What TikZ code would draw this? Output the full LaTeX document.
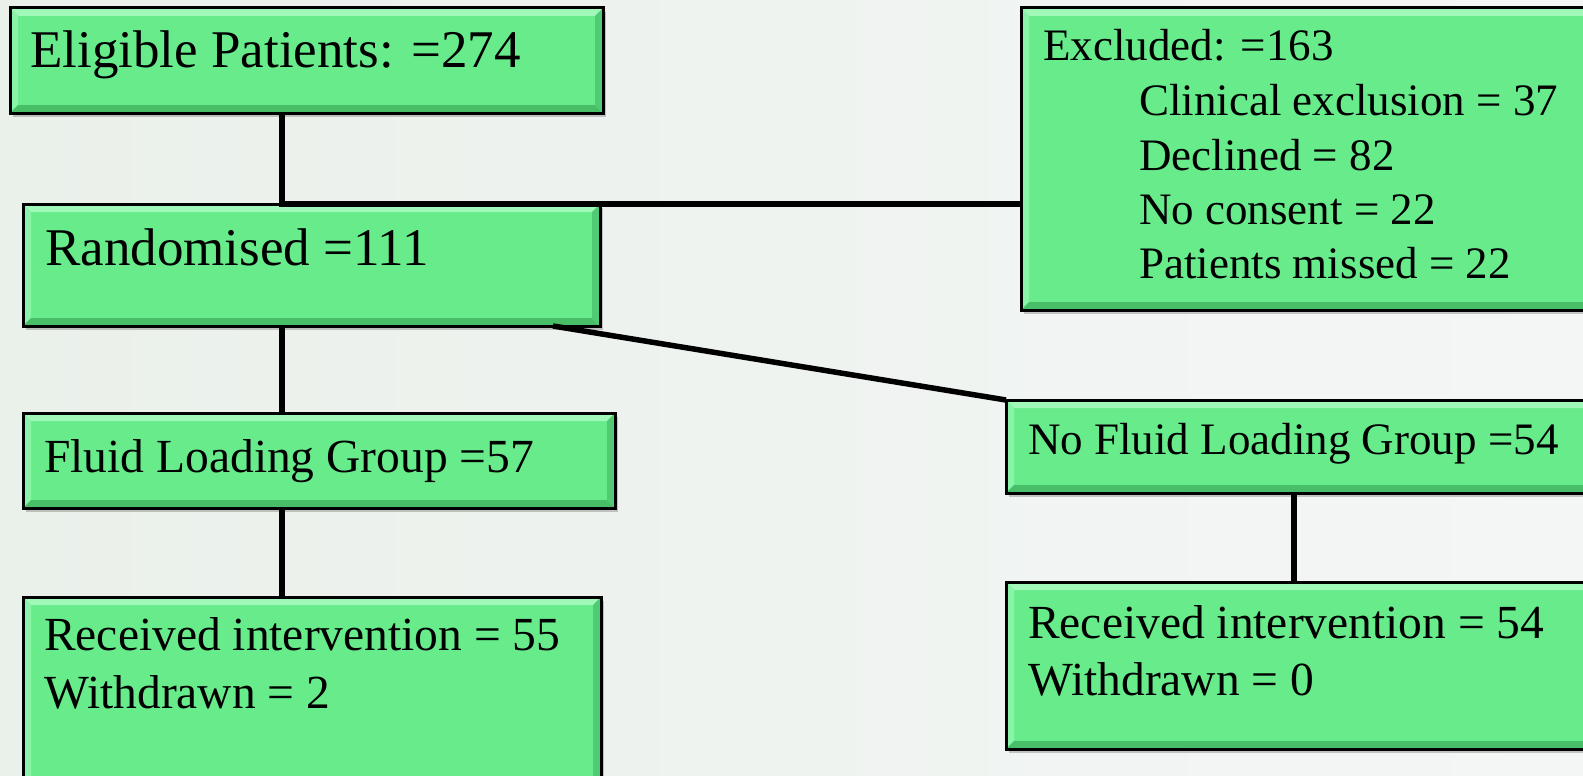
\documentclass[tikz,border=0pt]{standalone}
\usepackage{fontspec}
\setmainfont{Liberation Serif}
\usetikzlibrary{shadows}
\definecolor{boxgreen}{RGB}{103,235,139}
\definecolor{bevlight}{RGB}{160,248,185}
\definecolor{bevdark}{RGB}{72,190,105}
\definecolor{bgcol}{RGB}{244,246,246}
\definecolor{bgleft}{RGB}{234,240,234}
\tikzset{
  flowbox/.style={draw=black, line width=3pt, fill=boxgreen, inner sep=0pt, outer sep=0pt,
    anchor=north west, rectangle,
    drop shadow={shadow xshift=3pt, shadow yshift=-4pt, opacity=0.35, fill=black!60},
    path picture={
      \fill[bevlight] (path picture bounding box.north west) -- (path picture bounding box.north east)
        -- ([shift={(-8pt,-8pt)}]path picture bounding box.north east) -- ([shift={(8pt,-8pt)}]path picture bounding box.north west) -- cycle;
      \fill[bevlight!60!boxgreen] (path picture bounding box.north west) -- ([shift={(8pt,-8pt)}]path picture bounding box.north west)
        -- ([shift={(8pt,8pt)}]path picture bounding box.south west) -- (path picture bounding box.south west) -- cycle;
      \fill[bevdark] (path picture bounding box.south west) -- (path picture bounding box.south east)
        -- ([shift={(-8pt,8pt)}]path picture bounding box.south east) -- ([shift={(8pt,8pt)}]path picture bounding box.south west) -- cycle;
      \fill[bevdark!70!boxgreen] (path picture bounding box.north east) -- ([shift={(-8pt,-8pt)}]path picture bounding box.north east)
        -- ([shift={(-8pt,8pt)}]path picture bounding box.south east) -- (path picture bounding box.south east) -- cycle;
    }},
  conn/.style={draw=black, line width=5.5pt},
  big/.style={anchor=base west, inner sep=0pt, font=\fontsize{53pt}{60pt}\selectfont},
  mid/.style={anchor=base west, inner sep=0pt, font=\fontsize{47.5pt}{57pt}\selectfont},
  small/.style={anchor=base west, inner sep=0pt, font=\fontsize{45pt}{54pt}\selectfont},
}
\begin{document}
\begin{tikzpicture}[x=1pt,y=-1pt]
\useasboundingbox (0,0) rectangle (1583,776);
\clip (0,0) rectangle (1583,776);
\shade[left color=bgleft, right color=bgcol] (0,0) rectangle (1583,776);

% boxes
\node[flowbox, minimum width=593pt, minimum height=105pt] (elig) at (10,8) {};
\node[flowbox, minimum width=577pt, minimum height=122pt] (rand) at (23,204) {};
\node[flowbox, minimum width=580pt, minimum height=302pt] (excl) at (1021,8) {};
\node[flowbox, minimum width=592pt, minimum height=95pt] (fluid) at (23,413) {};
\node[flowbox, minimum width=578pt, minimum height=200pt] (recL) at (23,597) {};
\node[flowbox, minimum width=600pt, minimum height=93pt] (nofl) at (1006,400) {};
\node[flowbox, minimum width=600pt, minimum height=167pt] (recR) at (1006,582) {};

% connector guide coordinates
\coordinate (vx) at (282,0);
\coordinate (vr) at (1294,0);

% connectors
\draw[conn] (vx |- elig.south) |- (excl.west |- rand.north);
\draw[conn] (vx |- rand.south) -- (vx |- fluid.north);
\draw[conn] (vx |- fluid.south) -- (vx |- recL.north);
\draw[conn] ([xshift=-47pt]rand.south east) -- (nofl.north west);
\draw[conn] (vr |- nofl.south) -- (vr |- recR.north);

% texts
\node[big] (t1) at (30,68) {Eligible Patients: =274};
\node[big] (t2) at (45,265) {Randomised =111};
\node[small] (t3) at (1043,61) {Excluded: =163};
\node[small] (t4) at (1139,115) {Clinical exclusion = 37};
\node[small] (t5) at (1139,170) {Declined = 82};
\node[small] (t6) at (1139,224) {No consent = 22};
\node[small] (t7) at (1139,278) {Patients missed = 22};
\node[mid] (t8) at (44,472) {Fluid Loading Group =57};
\node[small] (t9) at (1028,454) {No Fluid Loading Group =54};
\node[mid] (t10) at (44,650) {Received intervention = 55};
\node[mid] (t11) at (44,708) {Withdrawn = 2};
\node[mid] (t12) at (1028,638) {Received intervention = 54};
\node[mid] (t13) at (1028,695) {Withdrawn = 0};
\end{tikzpicture}
\end{document}
